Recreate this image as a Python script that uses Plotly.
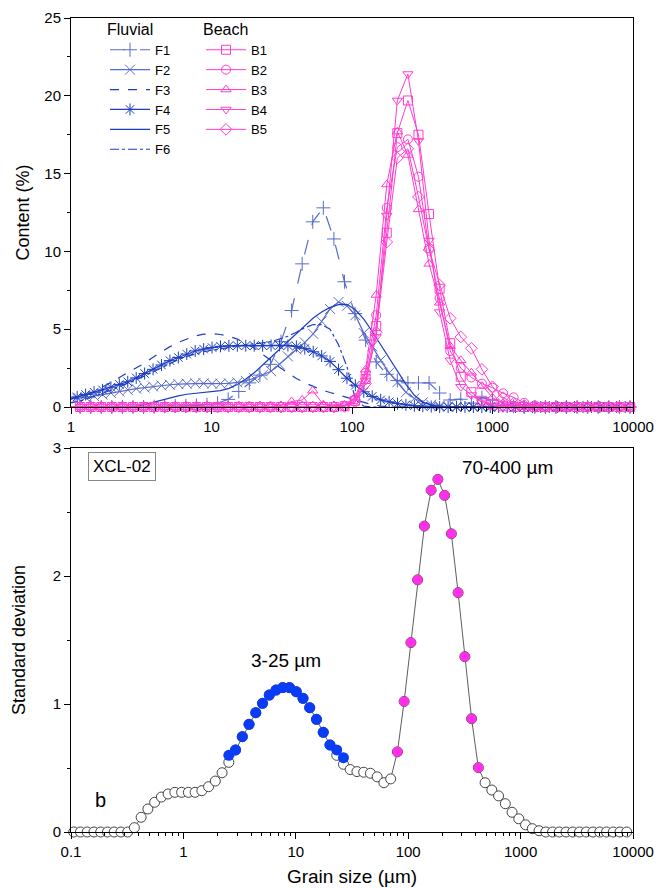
import plotly.graph_objects as go

# ---------------- data ----------------
# fine size classes (um) used for the standard-deviation curve and fluvial F2-F6
size_fine = [0.1057, 0.1213, 0.1393, 0.1600, 0.1837, 0.2109, 0.2421, 0.2780, 0.3192, 0.3664,
             0.4207, 0.4831, 0.5546, 0.6368, 0.7311, 0.8395, 0.9638, 1.107, 1.271, 1.459,
             1.675, 1.923, 2.208, 2.535, 2.911, 3.342, 3.837, 4.406, 5.058, 5.808,
             6.668, 7.656, 8.790, 10.09, 11.59, 13.30, 15.28, 17.54, 20.14, 23.12,
             26.55, 30.48, 34.99, 40.18, 46.13, 52.97, 60.81, 69.82, 80.17, 92.04,
             105.7, 121.3, 139.3, 160.0, 183.7, 210.9, 242.1, 278.0, 319.2, 366.4,
             420.7, 483.1, 554.6, 636.8, 731.1, 839.5, 963.8, 1107, 1271, 1459,
             1675, 1923, 2208, 2535, 2911, 3342, 3837, 4406, 5058, 5808,
             6668, 7656, 8790]

# quarter-phi size classes (um) used for F1 and beach samples
size_phi = [0.977, 1.161, 1.381, 1.642, 1.953, 2.323, 2.762, 3.285, 3.906, 4.645,
            5.524, 6.570, 7.813, 9.291, 11.05, 13.14, 15.63, 18.58, 22.10, 26.28,
            31.25, 37.16, 44.19, 52.56, 62.50, 74.33, 88.39, 105.1, 125.0, 148.7,
            176.8, 210.2, 250.0, 297.3, 353.6, 420.4, 500.0, 594.6, 707.1, 840.9,
            1000, 1189, 1414, 1682, 2000, 2378, 2828, 3364, 4000, 4757,
            5657, 6727, 8000, 9514]

# Standard deviation (bottom panel), all size classes
sd_all = [0, 0, 0, 0, 0, 0, 0, 0, 0,
          0.034, 0.115, 0.18, 0.232, 0.273, 0.297, 0.31, 0.31, 0.31, 0.31,
          0.323, 0.354, 0.398, 0.463, 0.544,
          0.641, 0.745, 0.841, 0.932, 1.005, 1.070, 1.109, 1.128, 1.128, 1.096,
          1.044, 0.971, 0.880, 0.779, 0.680,
          0.599, 0.529, 0.488, 0.472, 0.467, 0.459, 0.431, 0.385, 0.415,
          0.626, 1.02, 1.48, 1.97, 2.39, 2.67, 2.755, 2.63, 2.33, 1.87, 1.37, 0.885, 0.503,
          0.385, 0.328, 0.282, 0.221, 0.154, 0.103, 0.056, 0.026, 0.010,
          0, 0, 0, 0, 0, 0, 0, 0, 0, 0, 0, 0, 0]
# highlighted sensitive classes
sd_fine_mode = [0.599, 0.641, 0.745, 0.841, 0.932, 1.005, 1.070, 1.109, 1.128, 1.128,
                1.096, 1.044, 0.971, 0.880, 0.779, 0.680, 0.641, 0.581]          # classes 23..40
sd_coarse_mode = [0.626, 1.02, 1.48, 1.97, 2.39, 2.67, 2.755, 2.63, 2.33, 1.87,
                  1.37, 0.885, 0.503]                                           # classes 48..60

# Fluvial samples on size_fine[16:]
F2 = [0.5, 0.55, 0.62, 0.7, 0.8, 0.9, 1.0, 1.1, 1.18, 1.25, 1.32, 1.38, 1.43, 1.47, 1.5,
      1.52, 1.52, 1.5, 1.5, 1.52, 1.58, 1.68, 1.85, 2.05, 2.3, 2.75, 3.25, 3.7, 4.15, 4.7,
      5.5, 6.3, 6.75, 6.5, 5.9, 4.75, 3.9, 3.0, 2.2, 1.6, 0.95, 0.55, 0.3, 0.15, 0.07, 0.03,
      0, 0, 0, 0, 0, 0, 0, 0, 0, 0, 0, 0, 0, 0, 0, 0, 0, 0, 0, 0, 0]
F3 = [0.47, 0.6, 0.77, 1.0, 1.27, 1.57, 1.9, 2.22, 2.52, 2.82, 3.2, 3.55, 3.88, 4.15, 4.38,
      4.57, 4.68, 4.72, 4.66, 4.55, 4.36, 4.1, 3.78, 3.4, 2.98, 2.55, 2.17, 1.83, 1.55, 1.3,
      1.1, 0.93, 0.78, 0.63, 0.48, 0.3, 0.15, 0.06, 0.02,
      0, 0, 0, 0, 0, 0, 0, 0, 0, 0, 0, 0, 0, 0, 0, 0, 0, 0, 0, 0, 0, 0, 0, 0, 0, 0, 0, 0]
F4 = [0.55, 0.65, 0.8, 0.95, 1.1, 1.27, 1.45, 1.62, 1.87, 2.15, 2.42, 2.7, 2.98, 3.18, 3.4,
      3.6, 3.72, 3.82, 3.9, 3.93, 3.94, 3.94, 3.94, 3.94, 3.95, 3.96, 3.95, 3.9, 3.75, 3.55,
      3.28, 2.93, 2.4, 1.85, 1.4, 0.98, 0.68, 0.46, 0.33, 0.22, 0.14, 0.08, 0.05, 0.03,
      0, 0, 0, 0, 0, 0, 0, 0, 0, 0, 0, 0, 0, 0, 0, 0, 0, 0, 0, 0, 0, 0, 0]
F5 = [0, 0, 0, 0, 0, 0, 0,
      0.02, 0.06, 0.15, 0.3, 0.45, 0.6, 0.72, 0.82, 0.88, 0.93, 0.98, 1.05, 1.2, 1.45, 1.8,
      2.2, 2.7, 3.2, 3.7, 4.25, 4.75, 5.25, 5.72, 6.1, 6.4, 6.58, 6.6, 6.25, 5.65, 4.85, 4.0,
      3.2, 2.35, 1.45, 0.75, 0.3, 0.12, 0.04, 0.01,
      0, 0, 0, 0, 0, 0, 0, 0, 0, 0, 0, 0, 0, 0, 0, 0, 0, 0, 0, 0, 0]
F6 = [0.25, 0.35, 0.5, 0.68, 0.88, 1.08, 1.3, 1.52, 1.75, 2.0, 2.25, 2.52, 2.8, 3.05, 3.25,
      3.42, 3.55, 3.65, 3.75, 3.85, 3.92, 4.0, 4.05, 4.12, 4.2, 4.35, 4.55, 4.8, 5.1, 5.3,
      5.3, 5.0, 4.0, 2.6, 0.5, 0.05,
      0, 0, 0, 0, 0, 0, 0, 0, 0, 0, 0, 0, 0, 0, 0, 0, 0, 0, 0, 0, 0, 0, 0, 0, 0, 0, 0, 0, 0, 0, 0]

# F1 and beach samples on size_phi
F1 = [0, 0, 0, 0, 0, 0, 0, 0,
      0.02, 0.04, 0.06, 0.08, 0.1, 0.15, 0.25, 0.49, 1.0, 1.55, 2.05, 2.74,
      4.2, 6.2, 9.2, 11.9, 12.8, 10.8, 8.05, 6.0, 4.3, 2.9, 2.1, 1.7, 1.55, 1.55, 1.55,
      0.9, 0.45, 0.5, 0.25, 0.6, 0.45, 0.1, 0.05,
      0, 0, 0, 0, 0, 0, 0, 0, 0, 0, 0]
B1 = [0] * 26 + [0.05, 0.4, 1.8, 5.2, 11.2, 17.6, 19.7, 17.5, 12.4, 7.6, 4.1, 1.95, 0.95,
                 0.4, 0.15, 0.05] + [0] * 12
B2 = [0] * 26 + [0.05, 0.5, 2.2, 5.9, 12.8, 16.7, 17.2, 14.8, 10.2, 7.0, 3.6, 2.5, 1.9, 1.5,
                 1.24, 0.88, 0.62, 0.27, 0.1] + [0] * 9
B3 = [0] * 20 + [0.1, 0.35, 0.45, 1.05, 0.15, 0.1, 0.1, 0.6, 2.4, 7.2, 14.3, 17.7, 16.2, 12.7,
                 9.2, 6.7, 3.9, 3.0, 2.2, 1.35, 0.6, 0.25, 0.1] + [0] * 11
B4 = [0] * 26 + [0.05, 0.3, 1.7, 4.5, 12.3, 19.7, 21.4, 17.1, 10.7, 6.1, 3.0, 1.3, 0.77,
                 0.3, 0.1] + [0] * 13
B5 = [0] * 26 + [0.05, 0.3, 1.5, 4.8, 10.6, 16.0, 16.6, 13.5, 10.1, 7.84, 5.7, 4.5, 3.77,
                 2.42, 1.3, 0.6, 0.25, 0.1] + [0] * 10

top_x_ticks = [1, 10, 100, 1000, 10000]
top_x_labels = ["1", "10", "100", "1000", "10000"]
bot_x_ticks = [0.1, 1, 10, 100, 1000, 10000]
bot_x_labels = ["0.1", "1", "10", "100", "1000", "10000"]

size_top = size_fine[16:]
assert len(sd_all) == len(size_fine)
for arr in (F2, F3, F4, F5, F6):
    assert len(arr) == len(size_top), len(arr)
for arr in (F1, B1, B2, B3, B4, B5):
    assert len(arr) == len(size_phi), len(arr)

# ---------------- styles ----------------
FONT = "Arial, Liberation Sans, sans-serif"
BLUE = "#1d3ec2"
LBLUE = "#5a6cc9"
PINK = "#ff3ccf"

fig = go.Figure()

fluvial = [
    ("F1", size_phi, F1, LBLUE, "longdash", "cross-thin-open", 10, "lines+markers"),
    ("F2", size_top, F2, LBLUE, "solid", "x-thin-open", 10, "lines+markers"),
    ("F3", size_top, F3, BLUE, "dash", "circle", 1, "lines"),
    ("F4", size_top, F4, BLUE, "solid", "asterisk-open", 10, "lines+markers"),
    ("F5", size_top, F5, BLUE, "solid", "circle", 1, "lines"),
    ("F6", size_top, F6, BLUE, "dashdot", "circle", 1, "lines"),
]
for name, xs, ys, col, dash, sym, ms, mode in fluvial:
    fig.add_trace(go.Scatter(
        x=xs, y=ys, name=name, mode=mode, legend="legend",
        line=dict(color=col, width=1.2, dash=dash),
        marker=dict(symbol=sym, size=ms, color=col, line=dict(color=col, width=1)),
        cliponaxis=False, xaxis="x", yaxis="y"))

beach = [
    ("B1", B1, "square-open"),
    ("B2", B2, "circle-open"),
    ("B3", B3, "triangle-up-open"),
    ("B4", B4, "triangle-down-open"),
    ("B5", B5, "diamond-open"),
]
for name, ys, sym in beach:
    fig.add_trace(go.Scatter(
        x=size_phi, y=ys, name=name, mode="lines+markers", legend="legend2",
        line=dict(color=PINK, width=1),
        marker=dict(symbol=sym, size=9, color=PINK, line=dict(color=PINK, width=1)),
        cliponaxis=False, xaxis="x", yaxis="y"))

# bottom panel
fig.add_trace(go.Scatter(
    x=size_fine, y=sd_all, mode="lines+markers", showlegend=False,
    line=dict(color="#333333", width=0.8),
    marker=dict(symbol="circle", size=10, color="white", line=dict(color="#444444", width=1)),
    cliponaxis=False, xaxis="x2", yaxis="y2"))
fig.add_trace(go.Scatter(
    x=size_fine[23:41], y=sd_fine_mode, mode="markers", showlegend=False,
    marker=dict(symbol="circle", size=11, color="#0a3cf5"),
    cliponaxis=False, xaxis="x2", yaxis="y2"))
fig.add_trace(go.Scatter(
    x=size_fine[48:61], y=sd_coarse_mode, mode="markers", showlegend=False,
    marker=dict(symbol="circle", size=10, color="#ff2ee8"),
    cliponaxis=False, xaxis="x2", yaxis="y2"))

axis_common = dict(showline=True, linecolor="black", linewidth=1, mirror=True,
                   ticks="outside", ticklen=6, tickwidth=1, tickcolor="black",
                   showgrid=False, zeroline=False, automargin=False,
                   tickfont=dict(family=FONT, size=15, color="black"))

H_PLOT = 814.0
def py(pix):
    return (832 - pix) / H_PLOT
def px(pix):
    return (pix - 71) / 562.0

fig.update_layout(
    width=657, height=888,
    margin=dict(l=71, r=24, t=18, b=56),
    paper_bgcolor="white", plot_bgcolor="white",
    font=dict(family=FONT, size=15, color="black"),
    xaxis=dict(type="log", range=[0, 4], anchor="y", domain=[0, 1],
               tickvals=top_x_ticks, ticktext=top_x_labels,
               minor=dict(ticks="outside", ticklen=3, dtick="D1", tickcolor="black", showgrid=False),
               **axis_common),
    yaxis=dict(range=[0, 25], domain=[py(407), 1], anchor="x", dtick=5,
               minor=dict(ticks="outside", ticklen=3, dtick=2.5, tickcolor="black", showgrid=False),
               title=dict(text="Content (%)", font=dict(family=FONT, size=18), standoff=10),
               **axis_common),
    xaxis2=dict(type="log", range=[-1, 4], anchor="y2", domain=[0, 1],
                tickvals=bot_x_ticks, ticktext=bot_x_labels,
                minor=dict(ticks="outside", ticklen=3, dtick="D1", tickcolor="black", showgrid=False),
                title=dict(text="Grain size (µm)", font=dict(family=FONT, size=19), standoff=10),
                **axis_common),
    yaxis2=dict(range=[0, 3], domain=[0, py(448)], anchor="x2", dtick=1,
                minor=dict(ticks="outside", ticklen=3, dtick=0.5, tickcolor="black", showgrid=False),
                title=dict(text="Standard deviation", font=dict(family=FONT, size=18), standoff=22),
                **axis_common),
    legend=dict(title=dict(text="Fluvial", font=dict(family=FONT, size=16)),
                x=px(105), y=py(14), xanchor="left", yanchor="top",
                bgcolor="rgba(0,0,0,0)", font=dict(family=FONT, size=13),
                tracegroupgap=0, itemwidth=40),
    legend2=dict(title=dict(text="Beach", font=dict(family=FONT, size=16)),
                 x=px(201), y=py(14), xanchor="left", yanchor="top",
                 bgcolor="rgba(0,0,0,0)", font=dict(family=FONT, size=13),
                 tracegroupgap=0, itemwidth=40),
    annotations=[
        dict(text="XCL-02", x=px(122), y=py(466), xref="paper", yref="paper",
             xanchor="center", yanchor="middle",
             showarrow=False, font=dict(family=FONT, size=17),
             bordercolor="#888888", borderwidth=1, borderpad=4, bgcolor="white"),
        dict(text="70-400 µm", x=px(460), y=py(467), xref="paper", yref="paper",
             xanchor="left", yanchor="middle", showarrow=False, font=dict(family=FONT, size=19)),
        dict(text="3-25 µm", x=px(286), y=py(660), xref="paper", yref="paper",
             xanchor="center", yanchor="middle",
             showarrow=False, font=dict(family=FONT, size=19)),
        dict(text="b", x=px(100), y=py(800), xref="paper", yref="paper",
             xanchor="center", yanchor="middle",
             showarrow=False, font=dict(family=FONT, size=20)),
    ],
)

fig.write_html("out.html")
